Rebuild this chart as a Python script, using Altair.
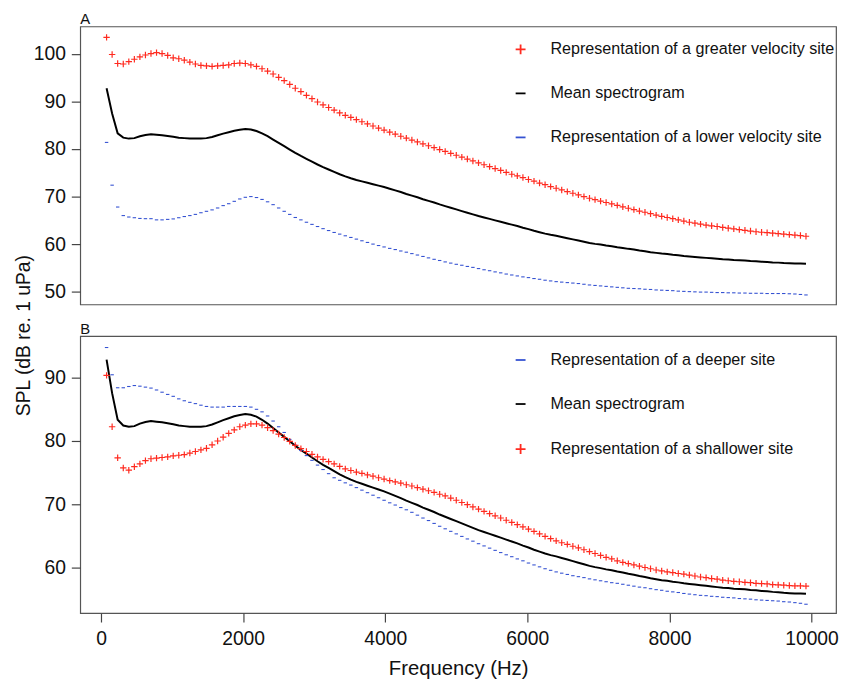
import altair as alt
import pandas as pd

# ---------------- data ----------------
FREQ = [
    78, 156, 234, 313, 391, 469, 547, 625, 703, 781,
    859, 938, 1016, 1094, 1172, 1250, 1328, 1406, 1484, 1563,
    1641, 1719, 1797, 1875, 1953, 2031, 2109, 2188, 2266, 2344,
    2422, 2500, 2578, 2656, 2734, 2813, 2891, 2969, 3047, 3125,
    3203, 3281, 3359, 3438, 3516, 3594, 3672, 3750, 3828, 3906,
    3984, 4063, 4141, 4219, 4297, 4375, 4453, 4531, 4609, 4688,
    4766, 4844, 4922, 5000, 5078, 5156, 5234, 5313, 5391, 5469,
    5547, 5625, 5703, 5781, 5859, 5938, 6016, 6094, 6172, 6250,
    6328, 6406, 6484, 6563, 6641, 6719, 6797, 6875, 6953, 7031,
    7109, 7188, 7266, 7344, 7422, 7500, 7578, 7656, 7734, 7813,
    7891, 7969, 8047, 8125, 8203, 8281, 8359, 8438, 8516, 8594,
    8672, 8750, 8828, 8906, 8984, 9063, 9141, 9219, 9297, 9375,
    9453, 9531, 9609, 9688, 9766, 9844, 9922,
]

A_GREATER = [
    103.5, 99.9, 98.0, 97.9, 98.4, 98.9, 99.4, 99.8, 100.1, 100.3,
    100.1, 99.7, 99.2, 99.0, 98.7, 98.3, 97.9, 97.6, 97.5, 97.4,
    97.5, 97.6, 97.7, 98.0, 98.1, 98.0, 97.7, 97.4, 96.9, 96.4,
    95.8, 95.1, 94.4, 93.6, 92.8, 92.1, 91.3, 90.6, 89.9, 89.3,
    88.75, 88.2, 87.6, 87.1, 86.65, 86.2, 85.75, 85.3, 84.85, 84.4,
    84.0, 83.55, 83.15, 82.7, 82.3, 81.9, 81.5, 81.1, 80.7, 80.3,
    79.9, 79.5, 79.1, 78.7, 78.3, 77.9, 77.5, 77.1, 76.7, 76.3,
    75.9, 75.5, 75.1, 74.7, 74.35, 74.0, 73.6, 73.25, 72.85, 72.5,
    72.1, 71.75, 71.4, 71.05, 70.7, 70.35, 70.0, 69.65, 69.35, 69.05,
    68.75, 68.45, 68.15, 67.85, 67.55, 67.25, 66.95, 66.7, 66.4, 66.1,
    65.85, 65.6, 65.35, 65.1, 64.85, 64.6, 64.4, 64.2, 64.0, 63.85,
    63.7, 63.5, 63.35, 63.2, 63.05, 62.9, 62.75, 62.6, 62.5, 62.4,
    62.3, 62.2, 62.1, 62.0, 61.9, 61.8, 61.65,
]

MEAN = [
    92.8, 87.5, 83.3, 82.4, 82.2, 82.3, 82.7, 82.95, 83.1, 83.0,
    82.9, 82.75, 82.6, 82.4, 82.3, 82.2, 82.2, 82.2, 82.3, 82.55,
    82.9, 83.25, 83.55, 83.85, 84.05, 84.2, 84.1, 83.8, 83.3, 82.7,
    82.0, 81.3, 80.6, 79.9, 79.2, 78.55, 77.95, 77.35, 76.75, 76.2,
    75.7, 75.2, 74.7, 74.25, 73.85, 73.5, 73.2, 72.9, 72.6, 72.3,
    72.0, 71.65, 71.3, 70.95, 70.55, 70.2, 69.85, 69.45, 69.1, 68.75,
    68.35, 68.0, 67.65, 67.3, 66.95, 66.6, 66.25, 65.9, 65.6, 65.3,
    65.0, 64.7, 64.4, 64.1, 63.8, 63.45, 63.15, 62.8, 62.5, 62.2,
    61.95, 61.75, 61.5, 61.25, 61.0, 60.75, 60.5, 60.25, 60.05, 59.9,
    59.7, 59.55, 59.35, 59.2, 59.0, 58.85, 58.65, 58.5, 58.3, 58.15,
    58.0, 57.9, 57.75, 57.65, 57.5, 57.4, 57.3, 57.2, 57.1, 57.0,
    56.9, 56.8, 56.75, 56.65, 56.6, 56.55, 56.45, 56.4, 56.3, 56.25,
    56.15, 56.1, 56.0, 55.95, 55.9, 55.9, 55.85,
]

A_LOWER = [
    81.4, 72.4, 67.8, 66.0, 65.7, 65.55, 65.4, 65.35, 65.35, 65.1,
    65.1, 65.2, 65.3, 65.55, 65.8, 66.0, 66.25, 66.6, 66.9, 67.2,
    67.6, 68.1, 68.5, 69.0, 69.5, 69.85, 70.0, 69.8, 69.4, 68.9,
    68.3, 67.6, 66.9, 66.25, 65.6, 65.1, 64.6, 64.15, 63.7, 63.25,
    62.85, 62.45, 62.1, 61.75, 61.4, 61.05, 60.7, 60.35, 60.0, 59.7,
    59.4, 59.1, 58.85, 58.55, 58.3, 58.0, 57.7, 57.4, 57.1, 56.8,
    56.55, 56.25, 56.0, 55.75, 55.55, 55.3, 55.1, 54.85, 54.6, 54.4,
    54.15, 53.95, 53.7, 53.5, 53.3, 53.1, 52.95, 52.75, 52.6, 52.4,
    52.25, 52.1, 52.0, 51.9, 51.8, 51.7, 51.55, 51.4, 51.3, 51.2,
    51.1, 51.0, 50.9, 50.8, 50.7, 50.65, 50.6, 50.5, 50.45, 50.35,
    50.3, 50.25, 50.2, 50.1, 50.05, 50.0, 49.95, 49.9, 49.9, 49.85,
    49.8, 49.8, 49.75, 49.75, 49.7, 49.7, 49.65, 49.65, 49.65, 49.6,
    49.6, 49.6, 49.6, 49.55, 49.5, 49.4, 49.3,
]

B_DEEPER = [
    94.7, 90.4, 88.35, 88.35, 88.55, 88.7, 88.6, 88.45, 88.3, 88.0,
    87.65, 87.3, 87.0, 86.6, 86.3, 86.05, 85.85, 85.6, 85.4, 85.3,
    85.3, 85.3, 85.4, 85.4, 85.4, 85.4, 85.3, 84.95, 84.55, 83.9,
    83.1, 82.2, 81.3, 80.2, 79.3, 78.45, 77.65, 76.9, 76.15, 75.45,
    74.8, 74.15, 73.75, 73.35, 73.0, 72.6, 72.2, 71.8, 71.4, 71.0,
    70.6, 70.2, 69.85, 69.45, 69.1, 68.7, 68.25, 67.8, 67.4, 66.95,
    66.5, 66.1, 65.7, 65.3, 64.9, 64.5, 64.15, 63.75, 63.4, 63.05,
    62.7, 62.35, 62.0, 61.7, 61.35, 61.05, 60.7, 60.4, 60.1, 59.8,
    59.55, 59.3, 59.1, 58.9, 58.7, 58.55, 58.4, 58.2, 58.05, 57.9,
    57.75, 57.6, 57.5, 57.35, 57.2, 57.05, 56.9, 56.8, 56.65, 56.5,
    56.4, 56.25, 56.15, 56.05, 55.9, 55.8, 55.7, 55.6, 55.55, 55.45,
    55.4, 55.3, 55.25, 55.2, 55.1, 55.05, 55.0, 54.9, 54.85, 54.8,
    54.75, 54.7, 54.6, 54.55, 54.45, 54.35, 54.2,
]

B_SHALLOWER = [
    90.3, 82.2, 77.3, 75.7, 75.35, 75.9, 76.35, 76.85, 77.15, 77.25,
    77.35, 77.45, 77.6, 77.7, 77.8, 78.05, 78.3, 78.55, 78.8, 79.35,
    79.95, 80.55, 81.15, 81.7, 82.2, 82.45, 82.65, 82.65, 82.45, 82.05,
    81.6, 81.05, 80.5, 79.9, 79.25, 78.75, 78.3, 77.85, 77.45, 77.05,
    76.7, 76.35, 75.95, 75.55, 75.3, 75.05, 74.85, 74.6, 74.4, 74.15,
    73.95, 73.7, 73.5, 73.3, 73.05, 72.85, 72.6, 72.35, 72.1, 71.85,
    71.55, 71.3, 70.95, 70.6, 70.25, 69.9, 69.55, 69.2, 68.85, 68.5,
    68.15, 67.8, 67.45, 67.1, 66.75, 66.4, 66.05, 65.7, 65.3, 64.9,
    64.55, 64.2, 63.9, 63.65, 63.35, 63.1, 62.8, 62.5, 62.2, 61.9,
    61.6, 61.35, 61.05, 60.8, 60.6, 60.4, 60.2, 60.0, 59.8, 59.6,
    59.45, 59.3, 59.2, 59.05, 58.95, 58.8, 58.65, 58.5, 58.4, 58.25,
    58.15, 58.0, 57.9, 57.8, 57.75, 57.65, 57.6, 57.5, 57.45, 57.4,
    57.3, 57.25, 57.2, 57.15, 57.1, 57.1, 57.05,
]

LBL_GREATER = "Representation of a greater velocity site"
LBL_MEAN = "Mean spectrogram"
LBL_LOWER = "Representation of a lower velocity site"
LBL_DEEPER = "Representation of a deeper site"
LBL_SHALLOWER = "Representation of a shallower site"

X_TICKS = [0, 2000, 4000, 6000, 8000, 10000]
A_Y_TICKS = [50, 60, 70, 80, 90, 100]
B_Y_TICKS = [60, 70, 80, 90]

# ---------------- styling ----------------
FONT = "Liberation Sans"
RED = "#ff2a1f"
BLUE = "#3552d2"
BLACK = "#000000"
PLUS = "M-1,0L1,0M0,-1L0,1"
DASH = "M-1,0L1,0"
X_DOMAIN = [-293, 10345]
PLOT_W = 764

mean_df = pd.DataFrame({"freq": FREQ, "spl": MEAN})


def series_df(name, vals):
    return pd.DataFrame({"freq": FREQ, "spl": vals, "series": [name] * len(FREQ)})


def make_legend(lx, ly):
    return alt.Legend(
        title=None, orient="none", legendX=lx, legendY=ly,
        symbolSize=100, symbolStrokeWidth=1.8, labelFontSize=16.3,
        labelFont=FONT, labelColor="#111", labelOffset=22,
        rowPadding=27.5, labelLimit=600, padding=0,
    )


def panel(label, red_name, red_vals, blue_name, blue_vals, domain, colors, shapes,
          ydomain, yticks, height, show_x, ytitle, lx, ly):
    if show_x:
        x_axis = alt.Axis(values=X_TICKS, format="d", title="Frequency (Hz)",
                          tickSize=9, labelPadding=8, titlePadding=11,
                          labelFlush=False)
    else:
        x_axis = None
    xenc = alt.X("freq:Q", scale=alt.Scale(domain=X_DOMAIN, nice=False, zero=False),
                 axis=x_axis)
    if ytitle:
        y_axis = alt.Axis(values=yticks, title=ytitle, tickSize=9, labelPadding=6,
                          titleX=-57, titleY=312, titleBaseline="middle",
                          titleFontSize=19.5)
    else:
        y_axis = alt.Axis(values=yticks, title=None, tickSize=9, labelPadding=6)
    yenc = alt.Y("spl:Q", scale=alt.Scale(domain=ydomain, nice=False, zero=False),
                 axis=y_axis)

    color = alt.Color("series:N", scale=alt.Scale(domain=domain, range=colors),
                      legend=make_legend(lx, ly))
    shape = alt.Shape("series:N", scale=alt.Scale(domain=domain, range=shapes),
                      legend=make_legend(lx, ly))

    line = alt.Chart(mean_df).mark_line(color=BLACK, strokeWidth=2).encode(
        x=xenc, y=yenc)

    red_pts = alt.Chart(series_df(red_name, red_vals)).mark_point(
        filled=False, opacity=1, strokeWidth=1.2, size=42
    ).encode(x=xenc, y=yenc, color=color, shape=shape)

    blue_pts = alt.Chart(series_df(blue_name, blue_vals)).mark_point(
        filled=False, opacity=1, strokeWidth=1.1, size=12
    ).encode(x=xenc, y=yenc, color=color, shape=shape)

    return alt.layer(line, blue_pts, red_pts).properties(
        width=PLOT_W, height=height,
        title=alt.TitleParams(text=label, anchor="start", frame="group",
                              fontSize=15, fontWeight="normal", font=FONT,
                              color="#111", offset=-1),
    )


panel_a = panel(
    "A", LBL_GREATER, A_GREATER, LBL_LOWER, A_LOWER,
    [LBL_GREATER, LBL_MEAN, LBL_LOWER],
    [RED, BLACK, BLUE],
    [PLUS, DASH, DASH],
    [47.3, 105.8], A_Y_TICKS, 281, False, "SPL (dB re. 1 uPa)", 437, 15,
)

panel_b = panel(
    "B", LBL_SHALLOWER, B_SHALLOWER, LBL_DEEPER, B_DEEPER,
    [LBL_DEEPER, LBL_MEAN, LBL_SHALLOWER],
    [BLUE, BLACK, RED],
    [DASH, DASH, PLUS],
    [52.8, 96.5], B_Y_TICKS, 280, True, None, 437, 16,
)

chart = (
    alt.vconcat(panel_a, panel_b, spacing=32, bounds="flush")
    .resolve_scale(color="independent", shape="independent", y="independent")
    .resolve_legend(color="independent", shape="independent")
    .properties(padding={"left": 5, "top": 0, "right": 0, "bottom": 0})
    .configure(font=FONT)
    .configure_view(stroke="#555555", strokeWidth=1.2)
    .configure_axis(grid=False, domain=False, tickColor="#444444", tickWidth=1.2,
                    labelColor="#111111", labelFont=FONT, titleFont=FONT,
                    labelFontSize=19.5, titleFontSize=20.5, titleFontWeight="normal",
                    titleColor="#111111")
)

chart.save("out.html", embed_options={"renderer": "svg", "actions": False})
